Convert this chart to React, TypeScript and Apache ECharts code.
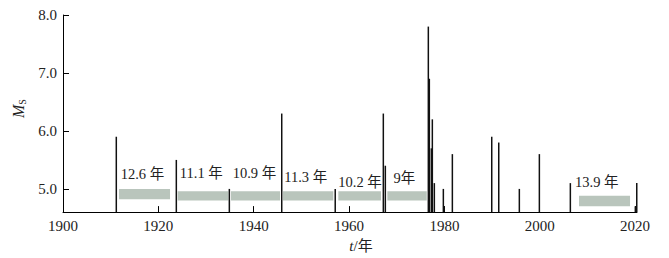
import React, { useEffect, useRef } from 'react';
import * as echarts from 'echarts';

// Earthquake events: decimal year and surface-wave magnitude
const quakeYears = [1911.18, 1923.77, 1934.89, 1945.88, 1957.1, 1967.19, 1967.61, 1976.63, 1976.84, 1977.26, 1977.47, 1977.89, 1979.78, 1979.93, 1981.67, 1989.93, 1991.4, 1995.72, 1999.92, 2006.42, 2020.05, 2020.35];
const quakeMags = [5.9, 5.5, 5.0, 6.3, 5.0, 6.3, 5.4, 7.8, 6.9, 5.7, 6.2, 5.1, 5.0, 4.7, 5.6, 5.9, 5.8, 5.0, 5.6, 5.1, 4.7, 5.1];

// Quiet intervals
const intervalStart = [1911.75, 1924.06, 1935.24, 1946.15, 1957.75, 1968.03, 2008.24];
const intervalEnd = [1922.45, 1934.68, 1945.52, 1956.7, 1966.7, 1976.3, 2018.94];
const intervalLabels = ['12.6 年', '11.1 年', '10.9 年', '11.3 年', '10.2 年', '9年', '13.9 年'];
const bandTop = [5.0, 4.96, 4.96, 4.96, 4.96, 4.96, 4.88];
const bandBottom = [4.82, 4.8, 4.8, 4.8, 4.8, 4.8, 4.7];
const labelYear = [1912.1, 1924.5, 1935.6, 1946.4, 1957.75, 1969.3, 2007.4];
const labelMag = [5.26, 5.27, 5.27, 5.2, 5.12, 5.19, 5.12];

const xTicks = [1900, 1920, 1940, 1960, 1980, 2000, 2020];
const yTicks = [5, 6, 7, 8];

const Y_MIN = 4.6;
const Y_MAX = 8;
const X_MIN = 1900;
const X_MAX = 2020.4;

const SERIF = "'Liberation Serif', 'Noto Sans CJK SC', serif";

export default function App() {
  const ref = useRef<HTMLDivElement>(null);

  useEffect(() => {
    if (!ref.current) return;
    const chart = echarts.init(ref.current, undefined, { renderer: 'svg' });

    const quakeData = quakeYears.map((y, i) => [y, quakeMags[i]]);
    const bandData = intervalStart.map((s, i) => [s, intervalEnd[i], bandTop[i], bandBottom[i], labelYear[i], labelMag[i], i]);

    const option: any = {
      animation: false,
      backgroundColor: '#ffffff',
      textStyle: { fontFamily: SERIF },
      grid: { left: 63, right: 32, top: 15, bottom: 43, containLabel: false },
      xAxis: {
        type: 'value',
        min: X_MIN,
        max: X_MAX,
        name: '{t|t}/年',
        nameLocation: 'middle',
        nameGap: 14,
        nameTextStyle: {
          color: '#222',
          fontFamily: SERIF,
          fontSize: 15,
          padding: [0, 0, 0, 22],
          verticalAlign: 'top',
          rich: {
            t: { fontStyle: 'italic', fontFamily: SERIF, fontSize: 15, color: '#222' },
          },
        },
        axisLine: { show: true, lineStyle: { color: '#000', width: 1 } },
        axisTick: { show: true, inside: true, length: 6, customValues: xTicks, lineStyle: { color: '#000' } },
        axisLabel: {
          customValues: xTicks,
          color: '#222',
          fontFamily: SERIF,
          fontSize: 15,
          margin: 6,
          formatter: (v: number) => String(Math.round(v)),
        },
        splitLine: { show: false },
      },
      yAxis: {
        type: 'value',
        min: Y_MIN,
        max: Y_MAX,
        name: '{m|M}{s|S}',
        nameLocation: 'middle',
        nameRotate: 90,
        nameGap: 21,
        nameTextStyle: {
          color: '#222',
          fontFamily: SERIF,
          padding: [0, 0, 0, 10],
          rich: {
            m: { fontStyle: 'italic', fontFamily: SERIF, fontSize: 16, lineHeight: 18, color: '#222' },
            s: { fontFamily: SERIF, fontSize: 10, lineHeight: 10, verticalAlign: 'bottom', color: '#222' },
          },
        },
        axisLine: { show: true, lineStyle: { color: '#000', width: 1 } },
        axisTick: { show: true, inside: true, length: 6, customValues: yTicks, lineStyle: { color: '#000' } },
        axisLabel: {
          customValues: yTicks,
          color: '#222',
          fontFamily: SERIF,
          fontSize: 15,
          margin: 6,
          formatter: (v: number) => v.toFixed(1),
        },
        splitLine: { show: false },
      },
      series: [
        {
          type: 'custom',
          name: 'bands',
          data: bandData,
          clip: false,
          renderItem: (params: any, api: any) => {
            const p0 = api.coord([api.value(0), api.value(2)]);
            const p1 = api.coord([api.value(1), api.value(3)]);
            const lp = api.coord([api.value(4), api.value(5)]);
            const idx = api.value(6);
            return {
              type: 'group',
              children: [
                {
                  type: 'rect',
                  shape: { x: p0[0], y: p0[1], width: p1[0] - p0[0], height: p1[1] - p0[1] },
                  style: { fill: '#b9c5bc' },
                },
                {
                  type: 'text',
                  x: lp[0],
                  y: lp[1],
                  style: {
                    text: intervalLabels[idx],
                    fill: '#222',
                    fontFamily: SERIF,
                    fontSize: 14.5,
                    align: 'left',
                    verticalAlign: 'middle',
                  },
                },
              ],
            };
          },
        },
        {
          type: 'custom',
          name: 'quakes',
          data: quakeData,
          clip: false,
          renderItem: (params: any, api: any) => {
            const top = api.coord([api.value(0), api.value(1)]);
            const base = api.coord([api.value(0), Y_MIN]);
            return {
              type: 'rect',
              shape: { x: top[0] - 0.75, y: top[1], width: 1.5, height: base[1] - top[1] },
              style: { fill: '#111' },
            };
          },
        },
      ],
    };

    chart.setOption(option);
    return () => {
      chart.dispose();
    };
  }, []);

  return (
    <div
      ref={ref}
      style={{ position: 'fixed', left: 0, top: 0, width: 669, height: 258, background: '#fff' }}
    />
  );
}
